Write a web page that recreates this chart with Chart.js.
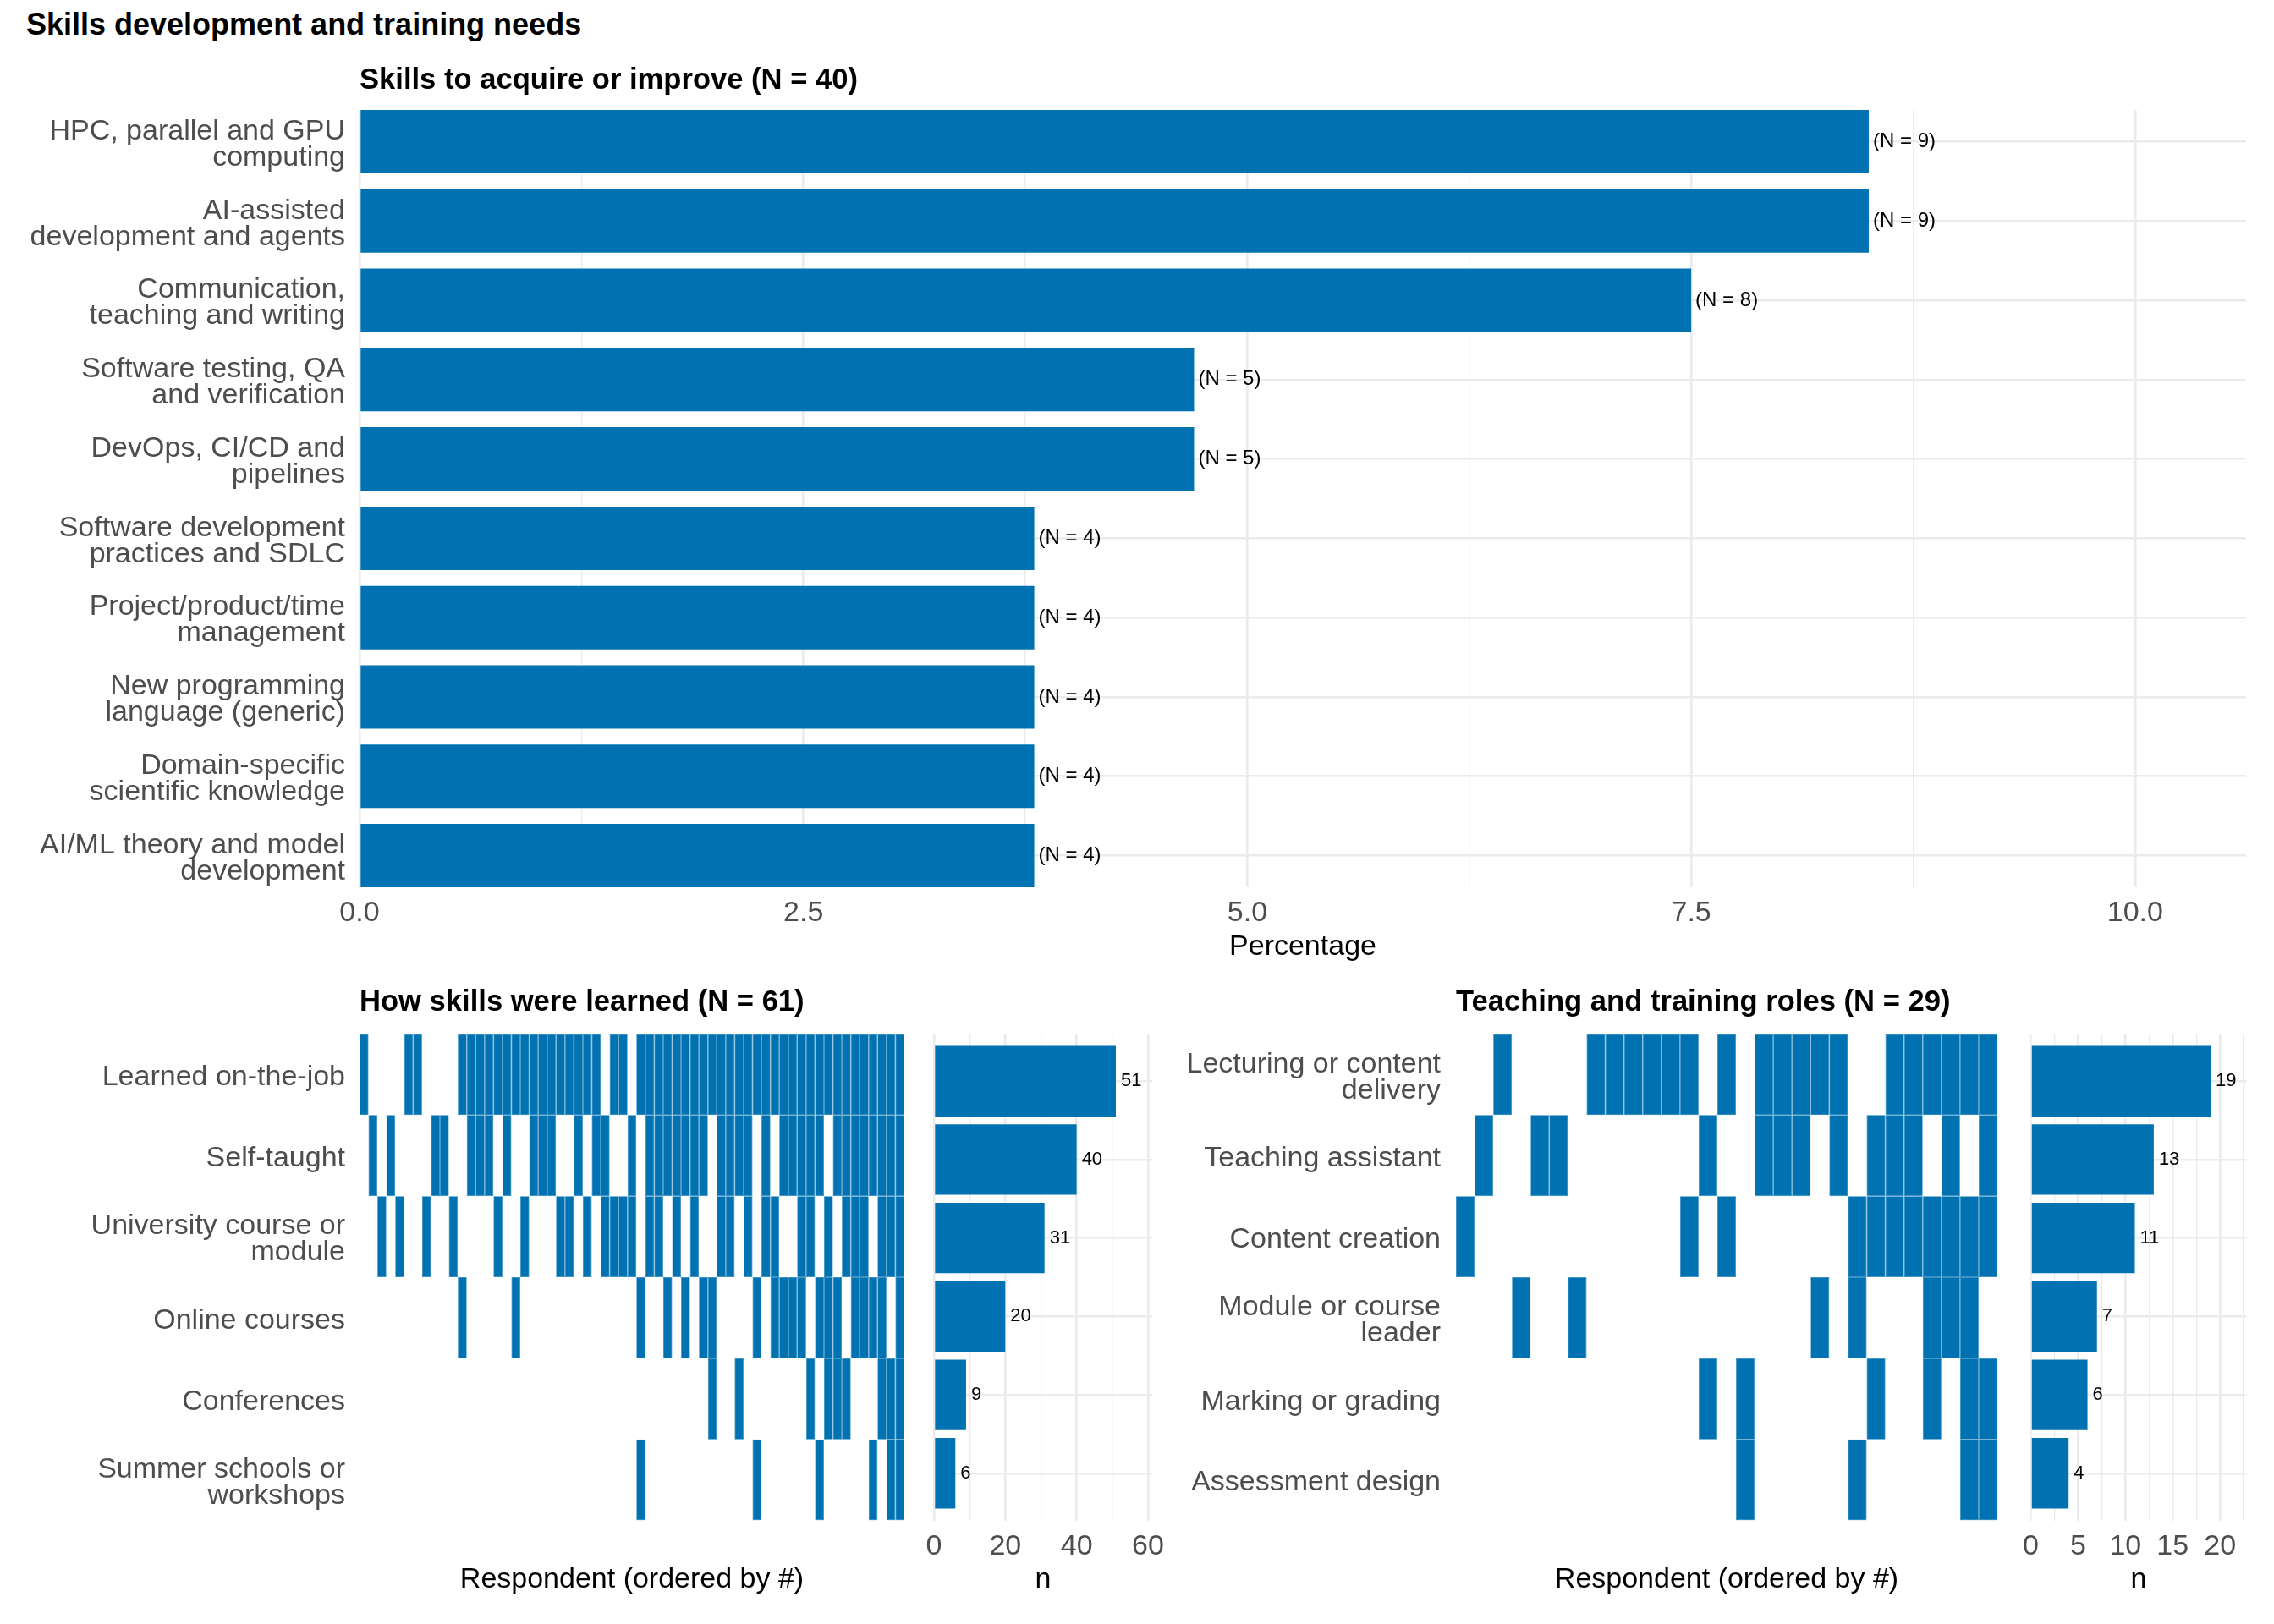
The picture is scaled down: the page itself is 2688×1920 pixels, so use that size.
<!DOCTYPE html>
<html>
<head>
<meta charset="utf-8">
<script src="https://cdn.jsdelivr.net/npm/chart.js@4.4.1/dist/chart.umd.min.js"></script>
<style>
  html, body { margin: 0; padding: 0; background: #ffffff; }
  body { width: 2688px; height: 1920px; position: relative; overflow: hidden; }
  canvas { position: absolute; }
  #mainTitle { position: absolute; left: 31px; top: 8px; font: bold 36px/42px "Liberation Sans", Arial, sans-serif; color: #000; white-space: nowrap; }
</style>
</head>
<body>
<div id="mainTitle">Skills development and training needs</div>
<canvas id="skillsChart" width="2688" height="1090" style="left:0px;top:60px"></canvas>
<canvas id="learnedMatrixChart" width="1085" height="780" style="left:0px;top:1140px"></canvas>
<canvas id="learnedCountChart" width="320" height="780" style="left:1075px;top:1140px"></canvas>
<canvas id="rolesMatrixChart" width="997" height="780" style="left:1380px;top:1140px"></canvas>
<canvas id="rolesCountChart" width="308" height="780" style="left:2380px;top:1140px"></canvas>
<script>
// ---------------- DATA ----------------
const skillLabels = [
  "HPC, parallel and GPU\ncomputing",
  "AI-assisted\ndevelopment and agents",
  "Communication,\nteaching and writing",
  "Software testing, QA\nand verification",
  "DevOps, CI/CD and\npipelines",
  "Software development\npractices and SDLC",
  "Project/product/time\nmanagement",
  "New programming\nlanguage (generic)",
  "Domain-specific\nscientific knowledge",
  "AI/ML theory and model\ndevelopment"
];
const skillPercent = [8.5, 8.5, 7.5, 4.7, 4.7, 3.8, 3.8, 3.8, 3.8, 3.8];
const skillCounts = [9, 9, 8, 5, 5, 4, 4, 4, 4, 4];
const skillMajorTicks = [0, 2.5, 5, 7.5, 10];
const skillMinorTicks = [1.25, 3.75, 6.25, 8.75];
const skillAxisMax = 10.625;

const learnedLabels = [
  "Learned on-the-job",
  "Self-taught",
  "University course or\nmodule",
  "Online courses",
  "Conferences",
  "Summer schools or\nworkshops"
];
const learnedCounts = [51, 40, 31, 20, 9, 6];
const learnedRespondents = 61;
// respondent indices (0-based, ordered by number of items) ticked for each row
const learnedOnJob = [0,5,6,11,12,13,14,15,16,17,18,19,20,21,22,23,24,25,26,28,29,31,32,33,34,35,36,37,38,39,40,41,42,43,44,45,46,47,48,49,50,51,52,53,54,55,56,57,58,59,60];
const learnedSelfTaught = [1,3,8,9,12,13,14,16,19,20,21,24,26,27,30,32,33,34,35,36,37,38,40,41,42,43,45,47,48,49,50,51,53,54,55,56,57,58,59,60];
const learnedUniversity = [2,4,7,10,15,18,22,23,25,27,28,29,30,32,33,35,37,40,41,43,45,46,49,50,52,54,55,56,58,59,60];
const learnedOnline = [11,17,31,34,36,38,39,44,46,47,48,49,51,52,53,55,56,57,58,60];
const learnedConferences = [39,42,50,52,53,54,58,59,60];
const learnedSummer = [31,44,51,57,59,60];
const learnedMatrix = [learnedOnJob, learnedSelfTaught, learnedUniversity, learnedOnline, learnedConferences, learnedSummer];
const learnedMajorTicks = [0, 20, 40, 60];
const learnedMinorTicks = [10, 30, 50];
const learnedAxisMax = 61.2;

const rolesLabels = [
  "Lecturing or content\ndelivery",
  "Teaching assistant",
  "Content creation",
  "Module or course\nleader",
  "Marking or grading",
  "Assessment design"
];
const rolesCounts = [19, 13, 11, 7, 6, 4];
const rolesRespondents = 29;
const rolesLecturing = [2,7,8,9,10,11,12,14,16,17,18,19,20,23,24,25,26,27,28];
const rolesTA = [1,4,5,13,16,17,18,20,22,23,24,26,28];
const rolesContent = [0,12,14,21,22,23,24,25,26,27,28];
const rolesLeader = [3,6,19,21,25,26,27];
const rolesMarking = [13,15,22,25,27,28];
const rolesAssessment = [15,21,27,28];
const rolesMatrix = [rolesLecturing, rolesTA, rolesContent, rolesLeader, rolesMarking, rolesAssessment];
const rolesMajorTicks = [0, 5, 10, 15, 20];
const rolesMinorTicks = [2.5, 7.5, 12.5, 17.5, 22.5];
const rolesAxisMax = 22.8;

// ---------------- STYLE ----------------
const BLUE = '#0072B2';
const SEAM = 'rgb(30,130,188)';
const GRID = '#EBEBEB';
const AXIS_TEXT = '#4D4D4D';
const FONT = "'Liberation Sans', Arial, Helvetica, sans-serif";
Chart.defaults.font.family = FONT;
Chart.defaults.color = AXIS_TEXT;

const lines = s => s.split('\n');
const asTicks = vals => vals.map(v => ({ value: v }));
const indexTicks = arr => arr.map((_, i) => ({ value: i }));

const valueLabels = {
  id: 'valueLabels',
  afterDatasetsDraw(chart, args, opts) {
    if (!opts || !opts.texts) return;
    const ctx = chart.ctx;
    const meta = chart.getDatasetMeta(0);
    ctx.save();
    ctx.font = opts.font;
    ctx.fillStyle = '#000';
    ctx.textAlign = 'left';
    ctx.textBaseline = 'middle';
    meta.data.forEach((bar, i) => ctx.fillText(opts.texts[i], bar.x + opts.offset, bar.y));
    ctx.restore();
  }
};

// small vertical nudge of the y-axis category labels (baseline compensation)
const nudgeYLabels = {
  id: 'nudgeYLabels',
  beforeDraw(chart, args, opts) {
    const s = chart.scales.y;
    if (!s || !opts || !opts.dy || typeof s._computeLabelItems !== 'function') return;
    try {
      const items = s._computeLabelItems(chart.chartArea);
      items.forEach(it => {
        const t = it.options && it.options.translation;
        if (t) it.options.translation = [t[0], t[1] + opts.dy];
      });
      s._labelItems = items;
    } catch (e) { /* keep default labels */ }
  }
};

const baseOpts = {
  responsive: false, animation: false, devicePixelRatio: 1, events: []
};

function panelTitle(text) {
  return { display: true, text, align: 'start', fullSize: false, color: '#000',
           font: { size: 34.6, weight: 'bold', lineHeight: 1.2 }, padding: { top: 25.2, bottom: 15.8 } };
}

// ---------------- TOP: skills to acquire ----------------
new Chart(document.getElementById('skillsChart'), {
  type: 'bar',
  data: {
    datasets: [{
      data: skillPercent.map((v, i) => ({ x: v, y: i })),
      backgroundColor: BLUE,
      barPercentage: 0.8,
      categoryPercentage: 1
    }]
  },
  options: Object.assign({}, baseOpts, {
    indexAxis: 'y',
    layout: { padding: { left: 0, right: 33, top: 0, bottom: 0 } },
    plugins: {
      legend: { display: false }, tooltip: { enabled: false },
      title: { display: true, text: 'Skills to acquire or improve (N = 40)', align: 'start', fullSize: false, color: '#000',
               font: { size: 34.6, weight: 'bold', lineHeight: 1.2 }, padding: { top: 15.2, bottom: 13.3 } },
      valueLabels: { texts: skillCounts.map(n => '(N = ' + n + ')'), font: '24px ' + FONT, offset: 5 },
      nudgeYLabels: { dy: 3.4 }
    },
    scales: {
      x: {
        type: 'linear', min: 0, max: skillAxisMax, offset: false,
        afterBuildTicks: s => { s.ticks = asTicks([...skillMajorTicks, ...skillMinorTicks].sort((a, b) => a - b)); },
        afterFit: s => { s.height = 101; },
        ticks: { autoSkip: false, maxRotation: 0, minRotation: 0, padding: 10, color: AXIS_TEXT,
                 font: { size: 34, lineHeight: 1.2 },
                 callback: v => skillMajorTicks.includes(v) ? v.toFixed(1) : '' },
        grid: { color: GRID, drawTicks: false, offset: false, lineWidth: c => skillMajorTicks.includes(c.tick.value) ? 2.6 : 1.3 },
        border: { display: false },
        title: { display: true, text: 'Percentage', color: '#000', font: { size: 34, lineHeight: 1.2 }, padding: { top: 0, bottom: 9.6 } }
      },
      y: {
        type: 'linear', reverse: true, min: -0.4, max: skillLabels.length - 0.6, offset: false,
        afterBuildTicks: s => { s.ticks = indexTicks(skillLabels); },
        afterFit: s => { s.width = 425; },
        ticks: { autoSkip: false, padding: 17, color: AXIS_TEXT, font: { size: 34, lineHeight: 0.91 },
                 callback: v => lines(skillLabels[v]) },
        grid: { color: GRID, drawTicks: false, offset: false, lineWidth: 2.6 },
        border: { display: false }
      }
    }
  }),
  plugins: [valueLabels, nudgeYLabels]
});

// ---------------- matrix + count builders ----------------
function matrixChart(id, labels, matrix, respondents, title, yWidth, labelPad) {
  return new Chart(document.getElementById(id), {
    type: 'bar',
    data: {
      datasets: matrix.map((cols, r) => ({
        data: cols.map(c => ({ x: c, y: [r - 0.5, r + 0.5] })),
        backgroundColor: BLUE,
        borderColor: SEAM,
        borderWidth: 0.7,
        borderSkipped: false,
        inflateAmount: 0,
        barPercentage: 1,
        categoryPercentage: 1,
        grouped: false
      }))
    },
    options: Object.assign({}, baseOpts, {
      layout: { padding: { left: 0, right: 16, top: 0, bottom: 0 } },
      plugins: { legend: { display: false }, tooltip: { enabled: false }, title: panelTitle(title), nudgeYLabels: { dy: 3.4 } },
      scales: {
        x: {
          type: 'linear', min: -0.5, max: respondents - 0.5, offset: false,
          afterBuildTicks: s => { s.ticks = []; },
          afterFit: s => { s.height = 122.5; },
          ticks: { display: false },
          grid: { display: false, drawTicks: false, offset: false },
          border: { display: false },
          title: { display: true, text: 'Respondent (ordered by #)', color: '#000', font: { size: 34, lineHeight: 1.2 }, padding: { top: 0, bottom: 31.6 } }
        },
        y: {
          type: 'linear', reverse: true, min: -0.5, max: labels.length - 0.5, offset: false,
          afterBuildTicks: s => { s.ticks = indexTicks(labels); },
          afterFit: s => { s.width = yWidth; },
          ticks: { autoSkip: false, padding: labelPad, color: AXIS_TEXT, font: { size: 34, lineHeight: 0.91 },
                   callback: v => lines(labels[v]) },
          grid: { display: false, drawTicks: false, offset: false },
          border: { display: false }
        }
      }
    }),
    plugins: [nudgeYLabels]
  });
}

function countChart(id, counts, axisMax, majorTicks, minorTicks, yWidth, rightPad) {
  return new Chart(document.getElementById(id), {
    type: 'bar',
    data: {
      datasets: [{
        data: counts.map((v, i) => ({ x: v, y: i })),
        backgroundColor: BLUE,
        barPercentage: 0.9,
        categoryPercentage: 1
      }]
    },
    options: Object.assign({}, baseOpts, {
      indexAxis: 'y',
      layout: { padding: { left: 0, right: rightPad, top: 82.5, bottom: 0 } },
      plugins: {
        legend: { display: false }, tooltip: { enabled: false },
        valueLabels: { texts: counts.map(n => String(n)), font: '22px ' + FONT, offset: 6 }
      },
      scales: {
        x: {
          type: 'linear', min: 0, max: axisMax, offset: false,
          afterBuildTicks: s => { s.ticks = asTicks([...majorTicks, ...minorTicks].sort((a, b) => a - b)); },
          afterFit: s => { s.height = 122.5; },
          ticks: { autoSkip: false, maxRotation: 0, minRotation: 0, padding: 11, color: AXIS_TEXT,
                   font: { size: 34, lineHeight: 1.2 },
                   callback: v => majorTicks.includes(v) ? String(v) : '' },
          grid: { color: GRID, drawTicks: false, offset: false, lineWidth: c => majorTicks.includes(c.tick.value) ? 2.6 : 1.3 },
          border: { display: false },
          title: { display: true, text: 'n', color: '#000', font: { size: 34, lineHeight: 1.2 }, padding: { top: 0, bottom: 31.6 } }
        },
        y: {
          type: 'linear', reverse: true, min: -0.6, max: counts.length - 0.4, offset: false,
          afterBuildTicks: s => { s.ticks = indexTicks(counts); },
          afterFit: s => { s.width = yWidth; },
          ticks: { display: false },
          grid: { color: GRID, drawTicks: false, offset: false, lineWidth: 2.6 },
          border: { display: false }
        }
      }
    }),
    plugins: [valueLabels]
  });
}

matrixChart('learnedMatrixChart', learnedLabels, learnedMatrix, learnedRespondents, 'How skills were learned (N = 61)', 425, 17);
countChart('learnedCountChart', learnedCounts, learnedAxisMax, learnedMajorTicks, learnedMinorTicks, 29, 33);
matrixChart('rolesMatrixChart', rolesLabels, rolesMatrix, rolesRespondents, 'Teaching and training roles (N = 29)', 341, 18);
countChart('rolesCountChart', rolesCounts, rolesAxisMax, rolesMajorTicks, rolesMinorTicks, 18, 32.5);
</script>
</body>
</html>
